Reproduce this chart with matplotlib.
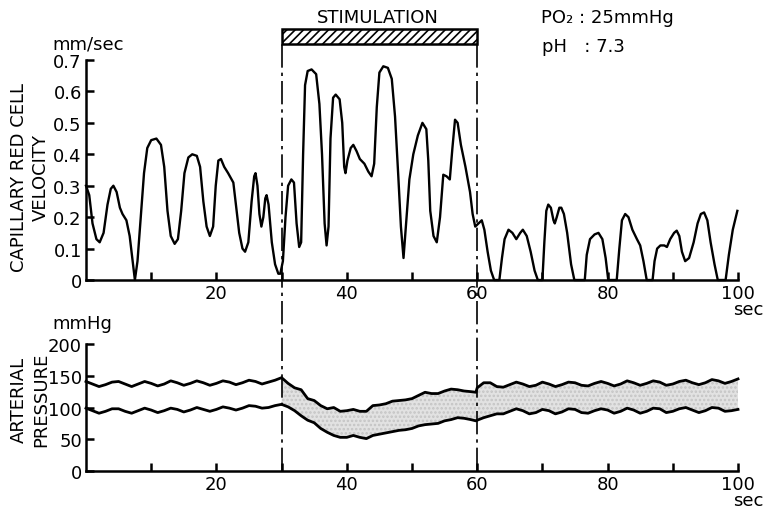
import numpy as np
import matplotlib
matplotlib.use('Agg')
import matplotlib.pyplot as plt
from matplotlib.lines import Line2D
from matplotlib.patches import Rectangle
from matplotlib.transforms import blended_transform_factory

plt.rcParams['font.family'] = ['DejaVu Sans']
plt.rcParams['hatch.linewidth'] = 1.2

# capillary red cell velocity (mm/sec)
vel_time = [0.0, 0.5, 1.0, 1.6, 2.1, 2.7, 3.3, 3.8, 4.2, 4.7, 5.2, 5.6, 6.2, 6.7, 7.1, 7.5, 7.9, 8.4, 8.9, 9.4,
            10.0, 10.8, 11.5, 12.0, 12.5, 13.0, 13.6, 14.1, 14.6, 15.1, 15.7, 16.3, 17.0, 17.5, 18.0, 18.5,
            19.0, 19.5, 19.9, 20.3, 20.7, 21.2, 21.8, 22.6, 23.0, 23.5, 24.0, 24.4, 24.9, 25.4, 25.8, 26.0,
            26.3, 26.6, 26.9, 27.2, 27.5, 27.7, 28.0, 28.5, 29.0, 29.5, 29.8, 30.2, 30.6, 31.0, 31.5, 31.9,
            32.3, 32.7, 33.0, 33.3, 33.6, 34.0, 34.6, 35.3, 35.8, 36.2, 36.6, 36.9, 37.2, 37.5, 37.9, 38.3,
            38.9, 39.3, 39.6, 39.8, 40.1, 40.6, 41.0, 41.5, 42.0, 42.7, 43.3, 43.8, 44.2, 44.6, 45.0, 45.6,
            46.3, 46.9, 47.4, 47.9, 48.3, 48.7, 49.1, 49.6, 50.2, 50.9, 51.6, 52.2, 52.5, 52.8, 53.3, 53.8,
            54.3, 54.8, 55.3, 55.8, 56.2, 56.6, 57.0, 57.5, 58.2, 58.9, 59.3, 59.7, 60.2, 60.7, 61.1, 61.6,
            62.1, 62.6, 63.4, 63.8, 64.2, 64.8, 65.4, 66.0, 66.6, 67.0, 67.6, 68.2, 68.8, 69.3, 70.0, 70.3,
            70.6, 70.9, 71.3, 71.7, 71.9, 72.2, 72.6, 72.9, 73.3, 73.8, 74.4, 74.9, 76.5, 76.8, 77.3, 78.0,
            78.6, 79.2, 79.7, 80.1, 81.4, 81.8, 82.2, 82.7, 83.2, 83.8, 84.5, 85.0, 85.5, 86.0, 86.9, 87.2,
            87.6, 88.1, 88.7, 89.1, 89.6, 90.2, 90.6, 91.0, 91.4, 91.9, 92.5, 93.2, 93.8, 94.3, 94.8, 95.3,
            95.8, 96.4, 96.9, 98.1, 98.6, 99.2, 99.9]
velocity = [0.30, 0.27, 0.18, 0.13, 0.12, 0.15, 0.24, 0.29, 0.30, 0.28, 0.23, 0.21, 0.19, 0.14, 0.07, 0.00, 0.06, 0.20, 0.34, 0.42,
            0.445, 0.45, 0.43, 0.36, 0.22, 0.14, 0.115, 0.13, 0.22, 0.34, 0.39, 0.40, 0.395, 0.36, 0.25, 0.17,
            0.14, 0.17, 0.30, 0.38, 0.385, 0.36, 0.34, 0.31, 0.24, 0.15, 0.10, 0.09, 0.12, 0.25, 0.33, 0.34,
            0.30, 0.21, 0.17, 0.20, 0.26, 0.27, 0.24, 0.12, 0.05, 0.02, 0.02, 0.06, 0.20, 0.30, 0.32, 0.31,
            0.18, 0.105, 0.12, 0.40, 0.62, 0.665, 0.67, 0.655, 0.56, 0.40, 0.18, 0.11, 0.17, 0.45, 0.58, 0.59,
            0.575, 0.50, 0.36, 0.34, 0.38, 0.42, 0.43, 0.41, 0.385, 0.37, 0.345, 0.33, 0.37, 0.55, 0.66, 0.68,
            0.675, 0.64, 0.52, 0.33, 0.17, 0.07, 0.18, 0.32, 0.40, 0.46, 0.50, 0.48, 0.38, 0.22, 0.14, 0.12,
            0.20, 0.335, 0.33, 0.32, 0.42, 0.51, 0.50, 0.43, 0.36, 0.28, 0.21, 0.17, 0.18, 0.19, 0.16, 0.09,
            0.03, 0.00, 0.00, 0.07, 0.13, 0.16, 0.15, 0.13, 0.15, 0.16, 0.14, 0.09, 0.03, 0.00, 0.00, 0.12,
            0.22, 0.24, 0.23, 0.19, 0.18, 0.20, 0.23, 0.23, 0.21, 0.15, 0.05, 0.00, 0.00, 0.08, 0.13, 0.145,
            0.15, 0.13, 0.07, 0.00, 0.00, 0.10, 0.19, 0.21, 0.20, 0.16, 0.13, 0.11, 0.06, 0.00, 0.00, 0.06,
            0.10, 0.11, 0.11, 0.105, 0.13, 0.15, 0.157, 0.14, 0.09, 0.06, 0.07, 0.12, 0.18, 0.21, 0.215, 0.19,
            0.12, 0.05, 0.00, 0.00, 0.08, 0.16, 0.22]

# arterial pressure envelope (mmHg), sampled each second, extra point before the step at 60 s
bp_time = list(range(0, 60)) + [59.8] + list(range(60, 101))
bp_upper = [141, 137, 133, 136, 140, 141, 137, 133, 137, 141, 138, 134, 137, 142, 139, 135, 138, 142, 139, 135,
            138, 142, 140, 136, 139, 143, 141, 137, 140, 143, 147, 138, 131, 128, 114, 111, 103, 98, 100, 94,
            95, 97, 94, 94, 103, 104, 106, 110, 111, 112, 114, 119, 124, 122, 122, 126, 129, 128, 126, 125,
            124, 131, 139, 139, 133, 132, 136, 140, 137, 133, 135, 140, 137, 133, 136, 140, 139, 135, 134, 138,
            141, 138, 134, 137, 142, 139, 135, 138, 142, 140, 135, 137, 141, 143, 139, 136, 139, 144, 142, 138,
            141, 145]
bp_lower = [99, 95, 91, 94, 98, 98, 94, 91, 95, 99, 96, 92, 95, 99, 97, 93, 96, 100, 97, 94,
            97, 101, 99, 96, 99, 103, 102, 99, 100, 103, 105, 101, 95, 87, 80, 76, 67, 61, 56, 53,
            53, 56, 53, 51, 56, 58, 60, 62, 64, 65, 67, 71, 73, 74, 75, 79, 81, 84, 83, 81,
            79, 80, 84, 87, 90, 90, 94, 98, 95, 90, 92, 97, 95, 90, 93, 98, 97, 92, 91, 95,
            98, 96, 91, 94, 99, 96, 91, 94, 99, 98, 92, 94, 98, 100, 96, 92, 95, 100, 99, 94,
            95, 97]

stim_start, stim_end = 30, 60
vel_ticks = [0, 0.1, 0.2, 0.3, 0.4, 0.5, 0.6, 0.7]
vel_ticklabels = ['0', '0.1', '0.2', '0.3', '0.4', '0.5', '0.6', '0.7']
bp_ticks = [0, 50, 100, 150, 200]
time_ticks = [10, 20, 30, 40, 50, 60, 70, 80, 90, 100]
time_ticklabels = ['', '20', '', '40', '', '60', '', '80', '', '100']

fig = plt.figure(figsize=(7.65, 5.1), dpi=100)
ax1 = fig.add_axes([0.1124, 0.449, 0.8523, 0.4314])
ax2 = fig.add_axes([0.1124, 0.0745, 0.8523, 0.249])

for ax in (ax1, ax2):
    ax.spines['top'].set_visible(False)
    ax.spines['right'].set_visible(False)
    ax.spines['left'].set_linewidth(1.8)
    ax.spines['bottom'].set_linewidth(1.8)
    ax.set_xlim(0, 100)
    ax.set_xticks(time_ticks)
    ax.set_xticklabels(time_ticklabels)
    ax.tick_params(direction='in', length=6, width=1.8, labelsize=13, pad=3)

# top panel: velocity
ax1.plot(vel_time, velocity, color='black', lw=1.7, clip_on=False, solid_joinstyle='round')
ax1.set_ylim(0, 0.7)
ax1.set_yticks(vel_ticks)
ax1.set_yticklabels(vel_ticklabels)

# bottom panel: arterial pressure
bp_time_arr = np.array(bp_time)
ax2.fill_between(bp_time, bp_lower, bp_upper, where=bp_time_arr >= stim_start,
                 facecolor='#e2e2e2', edgecolor='#c4c4c4', hatch='....', linewidth=0)
ax2.plot(bp_time, bp_upper, color='black', lw=2.0, clip_on=False, solid_joinstyle='round')
ax2.plot(bp_time, bp_lower, color='black', lw=2.0, clip_on=False, solid_joinstyle='round')
ax2.set_ylim(0, 200)
ax2.set_yticks(bp_ticks)

# unit labels
fig.text(0.068, 0.912, 'mm/sec', fontsize=13, ha='left', va='center')
fig.text(0.068, 0.365, 'mmHg', fontsize=13, ha='left', va='center')
fig.text(0.998, 0.392, 'sec', fontsize=13, ha='right', va='center')
fig.text(0.998, 0.018, 'sec', fontsize=13, ha='right', va='center')
fig.text(0.039, 0.651, 'CAPILLARY RED CELL\nVELOCITY', rotation=90, fontsize=13,
         ha='center', va='center', multialignment='center', linespacing=1.3)
fig.text(0.039, 0.216, 'ARTERIAL\nPRESSURE', rotation=90, fontsize=13,
         ha='center', va='center', multialignment='center', linespacing=1.3)

# stimulation bar and dash-dot markers across both panels
trans = blended_transform_factory(ax1.transData, fig.transFigure)
bar = Rectangle((stim_start, 0.9118), stim_end - stim_start, 0.0294, transform=trans,
                facecolor='white', edgecolor='black', hatch='////', linewidth=1.8)
fig.add_artist(bar)
for xs in (stim_start, stim_end):
    fig.add_artist(Line2D([xs, xs], [0.0745, 0.9118], transform=trans, color='black',
                          lw=1.2, dashes=(14, 3, 2, 3)))

fig.text(0.494, 0.965, 'STIMULATION', fontsize=13, ha='center', va='center')
fig.text(0.707, 0.965, 'PO\u2082 : 25mmHg', fontsize=13, ha='left', va='center')
fig.text(0.708, 0.908, 'pH   : 7.3', fontsize=13, ha='left', va='center')

fig.savefig('out.png', dpi=100)
